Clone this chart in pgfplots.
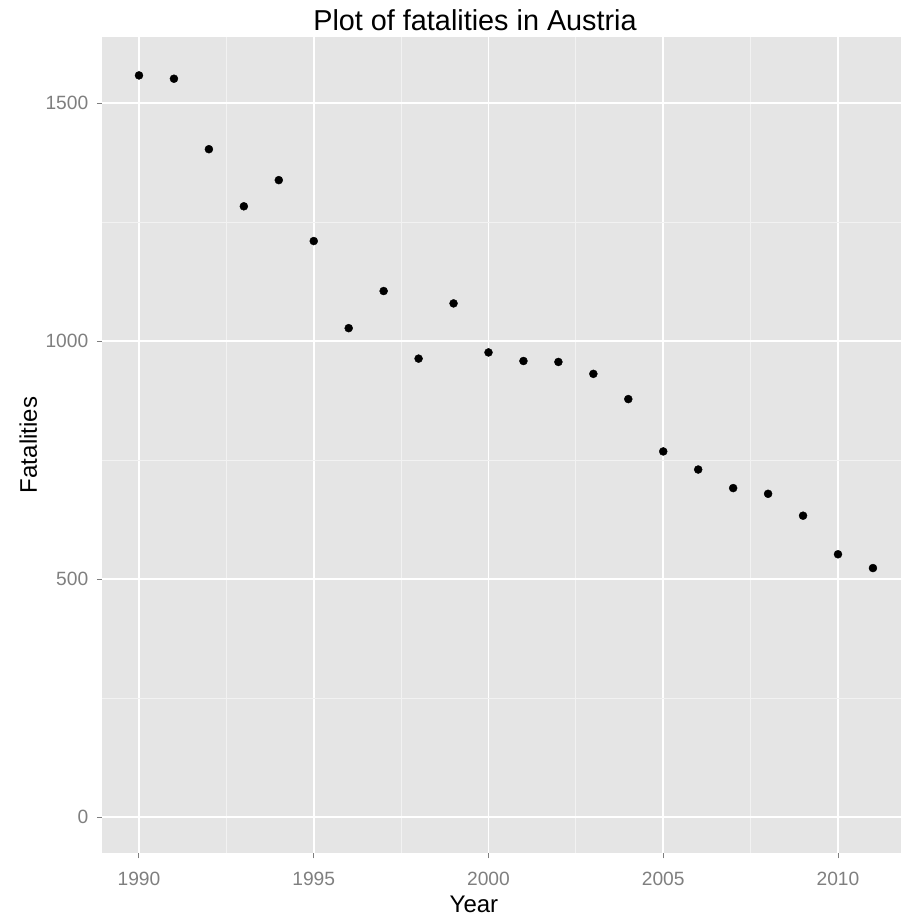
\documentclass[border=0pt]{standalone}
\usepackage{fontspec}
\setmainfont{Liberation Sans}
\usepackage{pgfplots}
\pgfplotsset{compat=1.18}
\definecolor{panel}{HTML}{E5E5E5}
\definecolor{minorgrid}{HTML}{F2F2F2}
\definecolor{ticktext}{HTML}{7F7F7F}
\begin{document}
\begin{tikzpicture}
\begin{axis}[
  at={(102.3pt,64pt)}, anchor=south west,
  width=798.6pt, height=816pt, scale only axis,
  xmin=1988.95, xmax=2011.8, ymin=-75.6, ymax=1638.7,
  axis background/.style={fill=panel},
  axis line style={draw=none},
  xtick={1990,1995,2000,2005,2010},
  ytick={0,500,1000,1500},
  minor xtick={1992.5,1997.5,2002.5,2007.5},
  minor ytick={250,750,1250},
  grid=both,
  major grid style={white, line width=1.6pt},
  minor grid style={minorgrid, line width=0.8pt},
  tick align=outside,
  xtick pos=bottom, ytick pos=left,
  major tick length=5.5pt,
  minor tick length=0pt,
  tick style={ticktext, line width=1pt},
  ticklabel style={font=\fontsize{19.2pt}{22pt}\selectfont, text=ticktext},
  xticklabel style={yshift=-10pt},
  yticklabel style={xshift=-5pt},
  /pgf/number format/assume math mode=true,
  /pgf/number format/1000 sep={},
  title={Plot of fatalities in Austria},
  title style={font=\fontsize{28.8pt}{34pt}\selectfont, at={(axis description cs:0.4667,1.0074)}, anchor=base, inner sep=0pt, yshift=-6pt},
  xlabel={Year},
  xlabel style={font=\fontsize{24pt}{28pt}\selectfont, at={(axis description cs:0.4654,-0.0748)}, anchor=base, inner sep=0pt, yshift=2pt},
  ylabel={Fatalities},
  ylabel style={font=\fontsize{24pt}{28pt}\selectfont, at={(axis description cs:-0.0818,0.5)}, anchor=base, rotate=0, inner sep=0pt},
]
\addplot[only marks, mark=*, mark size=4pt, black] coordinates {
(1990,1558) (1991,1551) (1992,1403) (1993,1283) (1994,1338) (1995,1210)
(1996,1027) (1997,1105) (1998,963) (1999,1079) (2000,976) (2001,958)
(2002,956) (2003,931) (2004,878) (2005,768) (2006,730) (2007,691)
(2008,679) (2009,633) (2010,552) (2011,523)
};
\end{axis}
\pgfresetboundingbox
\path[use as bounding box] (0,0) rectangle (901pt,917pt);
\end{tikzpicture}
\end{document}
